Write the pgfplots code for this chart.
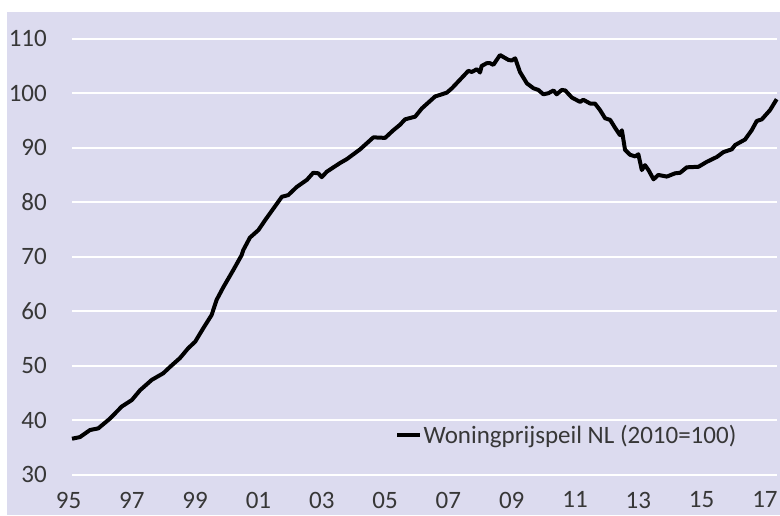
\documentclass[border=0pt]{standalone}
\usepackage{pgfplots}
\pgfplotsset{compat=1.18}
\usepackage{fontspec}
\setmainfont{Carlito}
\definecolor{bg}{RGB}{220,219,239}
\definecolor{txt}{RGB}{55,55,55}
\pgfplotstableread{
x y
1995.00 36.6
1995.25 36.9
1995.57 38.2
1995.83 38.5
1996.20 40.3
1996.57 42.5
1996.89 43.7
1997.15 45.5
1997.52 47.4
1997.88 48.6
1998.10 49.8
1998.41 51.4
1998.67 53.2
1998.89 54.4
1999.15 56.9
1999.41 59.3
1999.57 62.1
1999.78 64.4
2000.10 67.6
2000.36 70.3
2000.41 71.2
2000.62 73.5
2000.89 74.9
2001.10 76.7
2001.26 78.0
2001.63 81.0
2001.83 81.3
2002.10 82.8
2002.42 84.1
2002.62 85.4
2002.78 85.3
2002.89 84.6
2003.05 85.6
2003.47 87.2
2003.68 87.9
2004.10 89.7
2004.52 91.9
2004.89 91.8
2005.15 93.2
2005.36 94.2
2005.52 95.2
2005.84 95.7
2006.05 97.2
2006.47 99.4
2006.63 99.7
2006.84 100.1
2007.00 100.9
2007.52 104.1
2007.63 103.9
2007.79 104.4
2007.89 103.8
2007.94 105.0
2008.10 105.5
2008.21 105.5
2008.31 105.2
2008.52 107.0
2008.79 106.1
2008.89 106.0
2009.00 106.4
2009.15 103.9
2009.37 101.8
2009.58 100.9
2009.73 100.6
2009.89 99.8
2010.05 100.0
2010.21 100.5
2010.31 99.8
2010.47 100.6
2010.58 100.5
2010.79 99.2
2011.05 98.4
2011.15 98.8
2011.37 98.1
2011.52 98.1
2011.68 96.9
2011.84 95.4
2012.00 95.1
2012.16 93.6
2012.31 92.3
2012.37 93.2
2012.47 89.6
2012.63 88.7
2012.79 88.4
2012.89 88.8
2013.00 85.9
2013.10 86.8
2013.21 85.9
2013.37 84.2
2013.52 85.0
2013.79 84.7
2014.05 85.3
2014.21 85.4
2014.42 86.4
2014.79 86.5
2015.05 87.4
2015.37 88.3
2015.58 89.2
2015.84 89.7
2015.95 90.5
2016.26 91.5
2016.47 93.2
2016.63 94.9
2016.79 95.2
2017.05 96.9
2017.26 98.9
}\woning
\begin{document}
\begin{tikzpicture}[x=1pt,y=1pt]
\fill[bg] (-65,-40.3) rectangle (708,462.7);
\begin{axis}[
  at={(0,0)}, anchor=south west,
  scale only axis, width=705pt, height=436pt,
  xmin=1995, xmax=2017.27, ymin=30, ymax=110,
  axis line style={draw=none}, major tick length=0pt,
  ytick={30,40,...,110},
  yticklabels={30,40,50,60,70,80,90,100,110},
  xtick={1995,1997,...,2017},
  xticklabels={95,97,99,01,03,05,07,09,11,13,15,17},
  ymajorgrids, grid style={white, line width=1.8pt},
  tick label style={font=\fontsize{25}{30}\selectfont, text=txt, inner sep=0pt},
  yticklabel style={anchor=east, xshift=-25pt},
  xticklabel style={anchor=north, yshift=-17pt, xshift=-3.5pt},
  clip=false,
  legend style={draw=none, fill=none, at={(0.458,0.091)}, anchor=west,
    inner sep=0pt, font=\fontsize{25}{30}\selectfont, text=txt,
    nodes={inner sep=1.5pt}},
  legend image code/.code={\draw[line width=4pt,black] (0pt,0pt) -- (23pt,0pt);},
]
\addplot[black, line width=4pt, line join=round] table[x=x,y=y] {\woning};
\addlegendentry{Woningprijspeil NL (2010=100)}
\end{axis}
\pgfresetboundingbox
\path (-72,-40.3) rectangle (708,474.7);
\end{tikzpicture}
\end{document}
